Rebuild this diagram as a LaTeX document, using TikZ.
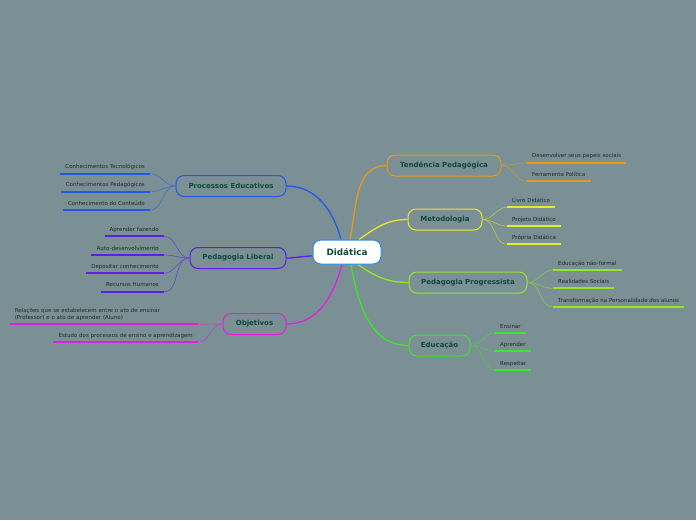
\documentclass[tikz,border=0pt]{standalone}
\usepackage{fontspec}
\setmainfont{DejaVu Sans}
\usepackage{tikz}
\usetikzlibrary{positioning}
\definecolor{fundo}{HTML}{7A9094}
\definecolor{titulo}{HTML}{0D4A3C}
\definecolor{folhatxt}{HTML}{262626}
\definecolor{central}{HTML}{3B8FD9}
\definecolor{laranja}{HTML}{E39B1B}
\definecolor{amarelo}{HTML}{E8E82A}
\definecolor{lima}{HTML}{92E62A}
\definecolor{verde}{HTML}{3DE62A}
\definecolor{azul}{HTML}{1F5BE8}
\definecolor{roxo}{HTML}{5B1FE8}
\definecolor{magenta}{HTML}{E020E0}
\tikzset{
  raiz/.style={rectangle, rounded corners=8pt, draw=#1, line width=1pt, fill=white,
               font=\fontsize{8.8}{10}\selectfont\bfseries, text=titulo, minimum height=24pt, inner xsep=0pt},
  topico/.style={rectangle, rounded corners=8pt, draw=#1, line width=1pt, fill=fundo,
                 font=\fontsize{7}{8}\selectfont\bfseries, text=titulo, minimum height=21pt, inner xsep=0pt},
  folha/.style={inner xsep=5pt, inner ysep=0pt, text depth=4.7pt, font=\fontsize{5.5}{6.6}\selectfont, text=folhatxt},
  sublinha/.style={draw=#1, line width=2pt},
  liga/.style={draw=#1, line width=1.3pt},
  ligafolha/.style={draw=#1!60!fundo, line width=0.6pt},
}

\begin{document}
\begin{tikzpicture}[x=1pt, y=-1pt]
    \fill[fundo] (0,0) rectangle (696,520);
    \node[raiz=central, minimum width=68pt] (did) at (347,252) {Didática};
    \node[topico=laranja, minimum width=114pt] (tend) at (444,165.5) {Tendência Pedagógica};
    \node[topico=amarelo, minimum width=74pt] (meto) at (445,219.5) {Metodologia};
    \node[topico=lima, minimum width=118pt] (prog) at (468,282.5) {Pedagogia Progressista};
    \node[topico=verde, minimum width=61pt] (edu) at (439.5,345.5) {Educação};
    \node[topico=azul, minimum width=110pt] (proc) at (231,186) {Processos Educativos};
    \node[topico=roxo, minimum width=96pt] (lib) at (238,258) {Pedagogia Liberal};
    \node[topico=magenta, minimum width=63pt] (obj) at (254.5,324) {Objetivos};

    \draw[liga=laranja] ([xshift=3pt]did.north) to[out=78, in=180] (tend.west);
    \draw[liga=azul] ([xshift=-6pt]did.north) to[out=105, in=0] (proc.east);
    \draw[liga=amarelo] ([xshift=12pt]did.north) to[out=35, in=180] (meto.west);
    \draw[liga=roxo] ([yshift=-4pt]did.west) to[out=180, in=0] (lib.east);
    \draw[liga=magenta] ([xshift=-5pt]did.south) to[out=-105, in=0] (obj.east);
    \draw[liga=verde] ([xshift=4pt]did.south) to[out=-80, in=180] (edu.west);
    \draw[liga=lima] ([xshift=11pt]did.south) to[out=-35, in=180] (prog.west);
    \node[raiz=central, minimum width=68pt] at (did) {Didática};

    \node[folha, anchor=south west] (t1) at (527,162.7) {Desenvolver seus papeis sociais};
    \node[folha, anchor=south west] (t2) at (527,181.3) {Ferramenta Política};
    \node[folha, anchor=south west] (m1) at (507,207.3) {Livro Didático};
    \node[folha, anchor=south west] (m2) at (507,226) {Projeto Didático};
    \node[folha, anchor=south west] (m3) at (507,244.3) {Própria Didática};
    \node[folha, anchor=south west] (p1) at (553,270) {Educação não-formal};
    \node[folha, anchor=south west] (p2) at (553,288.3) {Realidades Sociais};
    \node[folha, anchor=south west] (p3) at (553,307) {Transformação na Personalidade dos alunos};
    \node[folha, anchor=south west] (e1) at (495,333) {Ensinar};
    \node[folha, anchor=south west] (e2) at (495,351.3) {Aprender};
    \node[folha, anchor=south west] (e3) at (495,370) {Respeitar};
    \node[folha, anchor=south east] (c1) at (150,173.7) {Conhecimentos Tecnológicos};
    \node[folha, anchor=south east] (c2) at (150,191.7) {Conhecimentos Pedagógicos};
    \node[folha, anchor=south east] (c3) at (150,210) {Conhecimento do Conteúdo};
    \node[folha, anchor=south east] (l1) at (164,236.3) {Aprender fazendo};
    \node[folha, anchor=south east] (l2) at (164,255) {Auto-desenvolvimento};
    \node[folha, anchor=south east] (l3) at (164,273.3) {Depositar conhecimento};
    \node[folha, anchor=south east] (l4) at (164,291.7) {Recursos Humanos};
    \node[folha, anchor=south east, text width=178pt, align=left, text depth=11.7pt,
          font=\fontsize{5.5}{7}\selectfont] (o1) at (198,324.3)
      {Relações que se estabelecem entre o ato de ensinar\\(Professor) e o ato de aprender (Aluno)};
    \node[folha, anchor=south east] (o2) at (198,342.3) {Estudo dos processos de ensino e aprendizagem};

    \draw[sublinha=laranja] (t1.south west) -- (t1.south east);
    \draw[sublinha=laranja] (t2.south west) -- (t2.south east);
    \draw[sublinha=amarelo] (m1.south west) -- (m1.south east);
    \draw[sublinha=amarelo] (m2.south west) -- (m2.south east);
    \draw[sublinha=amarelo] (m3.south west) -- (m3.south east);
    \draw[sublinha=lima] (p1.south west) -- (p1.south east);
    \draw[sublinha=lima] (p2.south west) -- (p2.south east);
    \draw[sublinha=lima] (p3.south west) -- (p3.south east);
    \draw[sublinha=verde] (e1.south west) -- (e1.south east);
    \draw[sublinha=verde] (e2.south west) -- (e2.south east);
    \draw[sublinha=verde] (e3.south west) -- (e3.south east);
    \draw[sublinha=azul] (c1.south west) -- (c1.south east);
    \draw[sublinha=azul] (c2.south west) -- (c2.south east);
    \draw[sublinha=azul] (c3.south west) -- (c3.south east);
    \draw[sublinha=roxo] (l1.south west) -- (l1.south east);
    \draw[sublinha=roxo] (l2.south west) -- (l2.south east);
    \draw[sublinha=roxo] (l3.south west) -- (l3.south east);
    \draw[sublinha=roxo] (l4.south west) -- (l4.south east);
    \draw[sublinha=magenta] (o1.south west) -- (o1.south east);
    \draw[sublinha=magenta] (o2.south west) -- (o2.south east);

    \draw[ligafolha=laranja] (tend.east) to[out=0, in=180] (t1.south west);
    \draw[ligafolha=laranja] (tend.east) to[out=0, in=180] (t2.south west);
    \draw[ligafolha=amarelo] (meto.east) to[out=0, in=180] (m1.south west);
    \draw[ligafolha=amarelo] (meto.east) to[out=0, in=180] (m2.south west);
    \draw[ligafolha=amarelo] (meto.east) to[out=0, in=180] (m3.south west);
    \draw[ligafolha=lima] (prog.east) to[out=0, in=180] (p1.south west);
    \draw[ligafolha=lima] (prog.east) to[out=0, in=180] (p2.south west);
    \draw[ligafolha=lima] (prog.east) to[out=0, in=180] (p3.south west);
    \draw[ligafolha=verde] (edu.east) to[out=0, in=180] (e1.south west);
    \draw[ligafolha=verde] (edu.east) to[out=0, in=180] (e2.south west);
    \draw[ligafolha=verde] (edu.east) to[out=0, in=180] (e3.south west);
    \draw[ligafolha=azul] (proc.west) to[out=180, in=0] (c1.south east);
    \draw[ligafolha=azul] (proc.west) to[out=180, in=0] (c2.south east);
    \draw[ligafolha=azul] (proc.west) to[out=180, in=0] (c3.south east);
    \draw[ligafolha=roxo] (lib.west) to[out=180, in=0] (l1.south east);
    \draw[ligafolha=roxo] (lib.west) to[out=180, in=0] (l2.south east);
    \draw[ligafolha=roxo] (lib.west) to[out=180, in=0] (l3.south east);
    \draw[ligafolha=roxo] (lib.west) to[out=180, in=0] (l4.south east);
    \draw[ligafolha=magenta] (obj.west) to[out=180, in=0] (o1.south east);
    \draw[ligafolha=magenta] (obj.west) to[out=180, in=0] (o2.south east);
  \end{tikzpicture}
\end{document}
